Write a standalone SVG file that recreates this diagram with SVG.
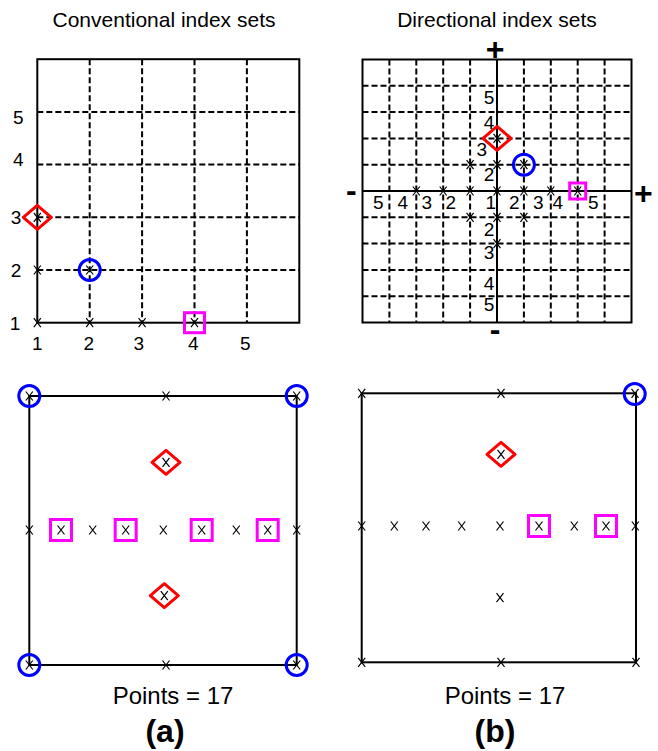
<svg xmlns="http://www.w3.org/2000/svg" xmlns:xlink="http://www.w3.org/1999/xlink" width="658" height="751" viewBox="0 0 658 751">
<style>
.t{font-family:"Liberation Sans",Arial,sans-serif;fill:#000;text-anchor:middle}
.title{font-size:21px}
.lab{font-size:19px}
.sign{font-size:32px;font-weight:bold}
.pts{font-size:24px}
.cap{font-size:32px;font-weight:bold}
.box{fill:none;stroke:#000;stroke-width:2}
.dash{fill:none;stroke:#000;stroke-width:2;stroke-dasharray:6,3}
.xm{fill:none;stroke:#000;stroke-width:1.2}
.dia{fill:none;stroke:#ff0000;stroke-width:3;stroke-linejoin:round}
.cir{fill:none;stroke:#0000ff;stroke-width:3}
.sq{fill:none;stroke:#ff00ff;stroke-width:3}
</style>
<defs>
<path id="x" class="xm" d="M-3.5,-4.5L3.5,4.5M-3.5,4.5L3.5,-4.5"/>
<path id="d" class="dia" d="M0,-12L14,0L0,12L-14,0Z"/>
<circle id="c" class="cir" r="10.5"/>
<rect id="s" class="sq" x="-10" y="-10" width="20" height="20"/>
<rect id="sb" class="sq" x="-10.5" y="-10.5" width="21" height="21"/>
<rect id="ss" class="sq" x="-8" y="-8" width="16" height="16"/>
</defs>

<g id="titles">
<text class="t title" x="164" y="26.5">Conventional index sets</text>
<text class="t title" x="497" y="26.5">Directional index sets</text>
</g>

<g id="panel-top-left">
<g class="grid">
<path class="dash" d="M89.7,59.2V322.7M142.1,59.2V322.7M194.5,59.2V322.7M246.9,59.2V322.7"/>
<path class="dash" d="M37.3,270H299.3M37.3,217.3H299.3M37.3,164.6H299.3M37.3,111.9H299.3"/>
<rect class="box" x="37.3" y="59.2" width="262" height="263.5"/>
</g>
<g class="markers">
<use xlink:href="#x" x="37.3" y="322.7"/>
<use xlink:href="#x" x="89.7" y="322.7"/>
<use xlink:href="#x" x="142.1" y="322.7"/>
<use xlink:href="#x" x="194.5" y="322.7"/>
<use xlink:href="#x" x="37.3" y="270"/>
<use xlink:href="#x" x="89.7" y="270"/>
<use xlink:href="#x" x="37.3" y="217.3"/>
<use xlink:href="#d" x="37.3" y="217.3"/>
<use xlink:href="#c" x="89.7" y="270"/>
<use xlink:href="#s" x="194.5" y="322.7"/>
</g>
<g class="labels">
<text class="t lab" x="18.3" y="124.1">5</text>
<text class="t lab" x="18.3" y="165.5">4</text>
<text class="t lab" x="16" y="224.1">3</text>
<text class="t lab" x="16" y="276.5">2</text>
<text class="t lab" x="15" y="329.5">1</text>
<text class="t lab" x="37.3" y="350.1">1</text>
<text class="t lab" x="88.7" y="350.1">2</text>
<text class="t lab" x="138.7" y="350.1">3</text>
<text class="t lab" x="193.3" y="350.1">4</text>
<text class="t lab" x="245.3" y="350.1">5</text>
</g>
</g>

<g id="panel-top-right">
<g class="grid">
<path class="dash" d="M389.4,59.5V322.5M416.3,59.5V322.5M443.2,59.5V322.5M470.1,59.5V322.5M523.9,59.5V322.5M550.8,59.5V322.5M577.7,59.5V322.5M604.6,59.5V322.5"/>
<path class="dash" d="M362.5,85.8H631.5M362.5,112.1H631.5M362.5,138.4H631.5M362.5,164.7H631.5M362.5,217.3H631.5M362.5,243.6H631.5M362.5,269.9H631.5M362.5,296.2H631.5"/>
<path class="box" d="M497,59.5V322.5M362.5,191H631.5"/>
<rect class="box" x="362.5" y="59.5" width="269" height="263"/>
</g>
<g class="markers">
<use xlink:href="#x" x="470.1" y="164.7"/>
<use xlink:href="#x" x="497" y="164.7"/>
<use xlink:href="#x" x="523.9" y="164.7"/>
<use xlink:href="#x" x="497" y="138.4"/>
<use xlink:href="#x" x="416.3" y="191"/>
<use xlink:href="#x" x="443.2" y="191"/>
<use xlink:href="#x" x="470.1" y="191"/>
<use xlink:href="#x" x="497" y="191"/>
<use xlink:href="#x" x="523.9" y="191"/>
<use xlink:href="#x" x="550.8" y="191"/>
<use xlink:href="#x" x="577.7" y="191"/>
<use xlink:href="#x" x="470.1" y="217.3"/>
<use xlink:href="#x" x="497" y="217.3"/>
<use xlink:href="#x" x="523.9" y="217.3"/>
<use xlink:href="#x" x="497" y="243.6"/>
<use xlink:href="#d" x="497" y="138.4"/>
<use xlink:href="#c" x="523.9" y="164.7"/>
<use xlink:href="#ss" x="577.7" y="191"/>
</g>
<g class="labels">
<text class="t lab" x="378.3" y="208.5">5</text>
<text class="t lab" x="402.7" y="208.5">4</text>
<text class="t lab" x="426.7" y="208.5">3</text>
<text class="t lab" x="450.7" y="208.5">2</text>
<text class="t lab" x="490.7" y="208.5">1</text>
<text class="t lab" x="514.3" y="208.5">2</text>
<text class="t lab" x="538.3" y="208.5">3</text>
<text class="t lab" x="557.7" y="208.5">4</text>
<text class="t lab" x="593.3" y="208.5">5</text>
<text class="t lab" x="489" y="103.5">5</text>
<text class="t lab" x="489" y="128.5">4</text>
<text class="t lab" x="481.7" y="155.8">3</text>
<text class="t lab" x="489" y="180.8">2</text>
<text class="t lab" x="489" y="236.1">2</text>
<text class="t lab" x="489" y="258.5">3</text>
<text class="t lab" x="489" y="289.5">4</text>
<text class="t lab" x="489" y="310.8">5</text>
<text class="t sign" x="495" y="59.7">+</text>
<text class="t sign" x="643.3" y="204.2">+</text>
<text class="t sign" x="351.3" y="200.7">-</text>
<text class="t sign" x="495" y="339.7">-</text>
</g>
</g>

<g id="panel-bottom-left">
<rect class="box" x="29.3" y="396" width="267.4" height="269"/>
<g class="markers">
<use xlink:href="#x" x="29.3" y="396"/>
<use xlink:href="#x" x="166" y="396"/>
<use xlink:href="#x" x="296.7" y="396"/>
<use xlink:href="#x" x="29.3" y="665"/>
<use xlink:href="#x" x="166" y="665"/>
<use xlink:href="#x" x="296.7" y="665"/>
<use xlink:href="#x" x="29.3" y="530"/>
<use xlink:href="#x" x="61" y="530"/>
<use xlink:href="#x" x="92.7" y="530"/>
<use xlink:href="#x" x="125.7" y="530"/>
<use xlink:href="#x" x="163.3" y="530"/>
<use xlink:href="#x" x="201.7" y="530"/>
<use xlink:href="#x" x="236.3" y="530"/>
<use xlink:href="#x" x="267.7" y="530"/>
<use xlink:href="#x" x="296.7" y="530"/>
<use xlink:href="#x" x="166" y="462.3"/>
<use xlink:href="#x" x="164.3" y="595.7"/>
<use xlink:href="#c" x="29.3" y="396"/>
<use xlink:href="#c" x="296.7" y="396"/>
<use xlink:href="#c" x="29.3" y="665"/>
<use xlink:href="#c" x="296.7" y="665"/>
<use xlink:href="#sb" x="61" y="530"/>
<use xlink:href="#sb" x="125.7" y="530"/>
<use xlink:href="#sb" x="201.7" y="530"/>
<use xlink:href="#sb" x="267.7" y="530"/>
<use xlink:href="#d" x="166" y="462.3"/>
<use xlink:href="#d" x="164.3" y="595.7"/>
</g>
<text class="t pts" x="173" y="704">Points = 17</text>
<text class="t cap" x="165" y="742">(a)</text>
</g>

<g id="panel-bottom-right">
<rect class="box" x="361.7" y="393.3" width="274.3" height="269"/>
<g class="markers">
<use xlink:href="#x" x="361.7" y="393.3"/>
<use xlink:href="#x" x="501" y="393.3"/>
<use xlink:href="#x" x="635" y="393.3"/>
<use xlink:href="#x" x="361.7" y="662.3"/>
<use xlink:href="#x" x="501" y="662.3"/>
<use xlink:href="#x" x="636" y="662.3"/>
<use xlink:href="#x" x="361.7" y="526"/>
<use xlink:href="#x" x="394.3" y="526"/>
<use xlink:href="#x" x="426" y="526"/>
<use xlink:href="#x" x="461.7" y="526"/>
<use xlink:href="#x" x="500" y="526"/>
<use xlink:href="#x" x="539" y="526"/>
<use xlink:href="#x" x="574.3" y="526"/>
<use xlink:href="#x" x="606" y="526"/>
<use xlink:href="#x" x="635.3" y="526"/>
<use xlink:href="#x" x="501" y="454.3"/>
<use xlink:href="#x" x="500" y="597.7"/>
<use xlink:href="#c" x="634.7" y="394"/>
<use xlink:href="#sb" x="539" y="526"/>
<use xlink:href="#sb" x="606" y="526"/>
<use xlink:href="#d" x="501" y="454.3"/>
</g>
<text class="t pts" x="505" y="704">Points = 17</text>
<text class="t cap" x="495" y="742">(b)</text>
</g>
</svg>
